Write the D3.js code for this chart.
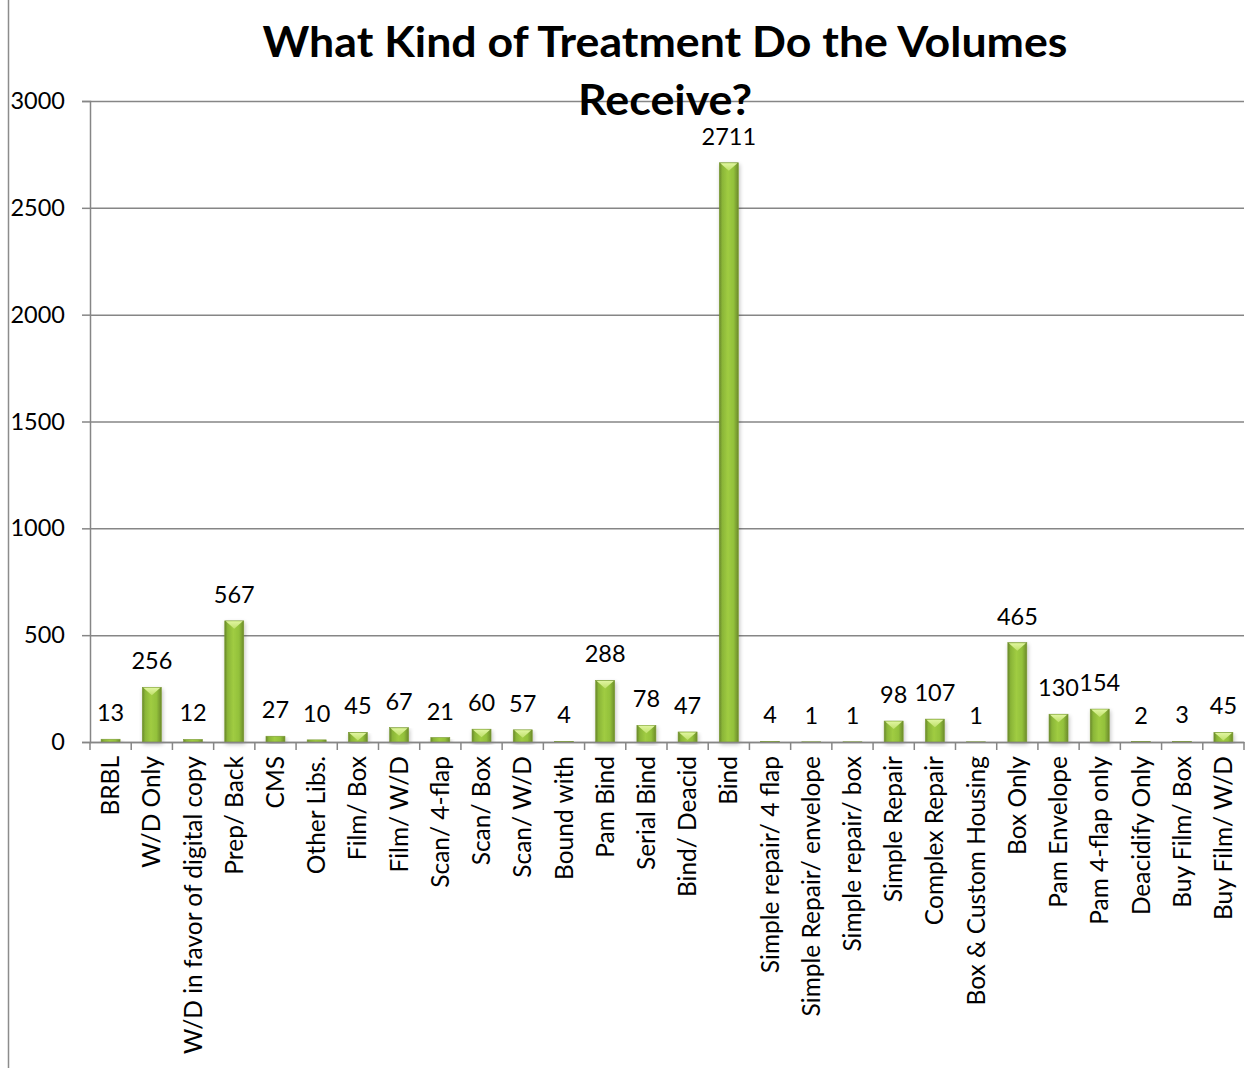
<!DOCTYPE html>
<html>
<head>
<meta charset="utf-8">
<script src="https://cdn.jsdelivr.net/npm/d3@7"></script>
<style>
  html, body { margin: 0; padding: 0; background: #fff; }
  svg { display: block; }
  text { font-family: Lato, "Open Sans", sans-serif; fill: #000; }
</style>
</head>
<body>
<svg id="chart" width="1247" height="1076"></svg>
<script>
// Treatment categories and volume counts
const categories = [
  "BRBL", "W/D Only", "W/D in favor of digital copy", "Prep/ Back", "CMS",
  "Other Libs.", "Film/ Box", "Film/ W/D", "Scan/ 4-flap", "Scan/ Box",
  "Scan/ W/D", "Bound with", "Pam Bind", "Serial Bind", "Bind/ Deacid",
  "Bind", "Simple repair/ 4 flap", "Simple Repair/ envelope", "Simple repair/ box",
  "Simple Repair", "Complex Repair", "Box & Custom Housing", "Box Only",
  "Pam Envelope", "Pam 4-flap only", "Deacidify Only", "Buy Film/ Box", "Buy Film/ W/D"
];
const volumes = [
  13, 256, 12, 567, 27, 10, 45, 67, 21, 60,
  57, 4, 288, 78, 47, 2711, 4, 1, 1, 98,
  107, 1, 465, 130, 154, 2, 3, 45
];
const yTicks = [0, 500, 1000, 1500, 2000, 2500, 3000];
const titleLines = ["What Kind of Treatment Do the Volumes", "Receive?"];
const titleWidths = [805, 174];

const rows = categories.map((c, i) => ({ cat: c, v: volumes[i] }));

const svg = d3.select("#chart");
const plot = { left: 90, right: 1244, top: 101, bottom: 742 };

const x = d3.scaleBand()
  .domain(categories)
  .range([plot.left, plot.right])
  .paddingInner(0)
  .paddingOuter(0);

const y = d3.scaleLinear()
  .domain([0, 3000])
  .range([plot.bottom, plot.top]);

// Outer frame edge on the left
svg.append("line")
  .attr("x1", 8.5).attr("x2", 8.5)
  .attr("y1", 0).attr("y2", 1068)
  .attr("stroke", "#8c8c8c").attr("stroke-width", 1.5);

// Gradients for the cylinder-like bars
const defs = svg.append("defs");
const grad = defs.append("linearGradient")
  .attr("id", "barGrad").attr("x1", "0").attr("x2", "1").attr("y1", "0").attr("y2", "0");
[["0%", "#67862a"], ["15%", "#8ab537"], ["45%", "#a0cc42"], ["75%", "#93c13b"], ["100%", "#6c8b2a"]]
  .forEach(([o, c]) => grad.append("stop").attr("offset", o).attr("stop-color", c));
const capGrad = defs.append("linearGradient")
  .attr("id", "capGrad").attr("x1", "0").attr("x2", "0").attr("y1", "0").attr("y2", "1");
[["0%", "#e0f5a0"], ["100%", "#bfe06a"]]
  .forEach(([o, c]) => capGrad.append("stop").attr("offset", o).attr("stop-color", c));
const shadow = defs.append("filter").attr("id", "shadow")
  .attr("x", "-50%").attr("y", "-10%").attr("width", "200%").attr("height", "130%");
shadow.append("feGaussianBlur").attr("in", "SourceAlpha").attr("stdDeviation", 2);
shadow.append("feOffset").attr("dx", 1).attr("dy", 2).attr("result", "b");
shadow.append("feComponentTransfer").append("feFuncA").attr("type", "linear").attr("slope", 0.25);
const merge = shadow.append("feMerge");
merge.append("feMergeNode");
merge.append("feMergeNode").attr("in", "SourceGraphic");

// Value axis with horizontal gridlines
const yAxis = d3.axisLeft(y).tickValues(yTicks).tickSize(8).tickPadding(17).tickFormat(d3.format("d"));
const gy = svg.append("g").attr("transform", `translate(${plot.left},0)`).call(yAxis);
gy.select(".domain").attr("stroke", "#868686").attr("stroke-width", 1.5);
gy.selectAll(".tick line").attr("stroke", "#868686").attr("stroke-width", 1.5);
gy.selectAll(".tick text").style("font-size", "23.5px").attr("fill", "#000").attr("x", -25);
gy.selectAll(".tick").append("line")
  .attr("x1", 0).attr("x2", plot.right - plot.left)
  .attr("stroke", "#868686").attr("stroke-width", 1.5);

// Bars
const bw = 19;
const bars = svg.append("g").selectAll("g").data(rows).join("g");
bars.append("rect")
  .attr("x", d => x(d.cat) + x.bandwidth() / 2 - bw / 2)
  .attr("width", bw)
  .attr("y", d => y(d.v))
  .attr("height", d => plot.bottom - y(d.v))
  .attr("fill", "url(#barGrad)")
  .attr("stroke", "#7a9a33").attr("stroke-width", 0.6)
  .attr("filter", "url(#shadow)");
// Light chevron cap on top of each bar
bars.filter(d => plot.bottom - y(d.v) > 6)
  .append("path")
  .attr("d", d => {
    const cx = x(d.cat) + x.bandwidth() / 2;
    const top = y(d.v);
    const h = Math.min(8, plot.bottom - top);
    return `M${cx - bw / 2 + 1},${top + 0.5} L${cx + bw / 2 - 1},${top + 0.5} L${cx},${top + h} Z`;
  })
  .attr("fill", "url(#capGrad)");

// Value labels
svg.append("g").selectAll("text").data(rows).join("text")
  .attr("x", d => x(d.cat) + x.bandwidth() / 2)
  .attr("y", d => y(d.v) - 18)
  .attr("text-anchor", "middle")
  .style("font-size", "23.5px")
  .text(d => d.v);

// Category axis
const xAxis = d3.axisBottom(x).tickSize(0).tickSizeOuter(0);
const gx = svg.append("g").attr("transform", `translate(0,${plot.bottom})`).call(xAxis);
gx.select(".domain").attr("stroke", "#868686").attr("stroke-width", 1.5);
gx.selectAll(".tick text")
  .style("font-size", "24.5px")
  .attr("fill", "#000")
  .attr("text-anchor", "end")
  .attr("transform", "rotate(-90)")
  .attr("x", -14)
  .attr("y", 0)
  .attr("dy", "0.35em");
// Tick marks between categories
svg.append("g").selectAll("line").data(d3.range(categories.length + 1)).join("line")
  .attr("x1", i => plot.left + i * x.step()).attr("x2", i => plot.left + i * x.step())
  .attr("y1", plot.bottom).attr("y2", plot.bottom + 8)
  .attr("stroke", "#868686").attr("stroke-width", 1.5);

// Title
svg.append("g").selectAll("text").data(titleLines).join("text")
  .attr("x", 665)
  .attr("y", (d, i) => 57 + i * 58)
  .attr("text-anchor", "middle")
  .style("font-size", "42px")
  .style("font-weight", "bold")
  .attr("textLength", (d, i) => titleWidths[i])
  .attr("lengthAdjust", "spacingAndGlyphs")
  .text(d => d);
</script>
</body>
</html>
